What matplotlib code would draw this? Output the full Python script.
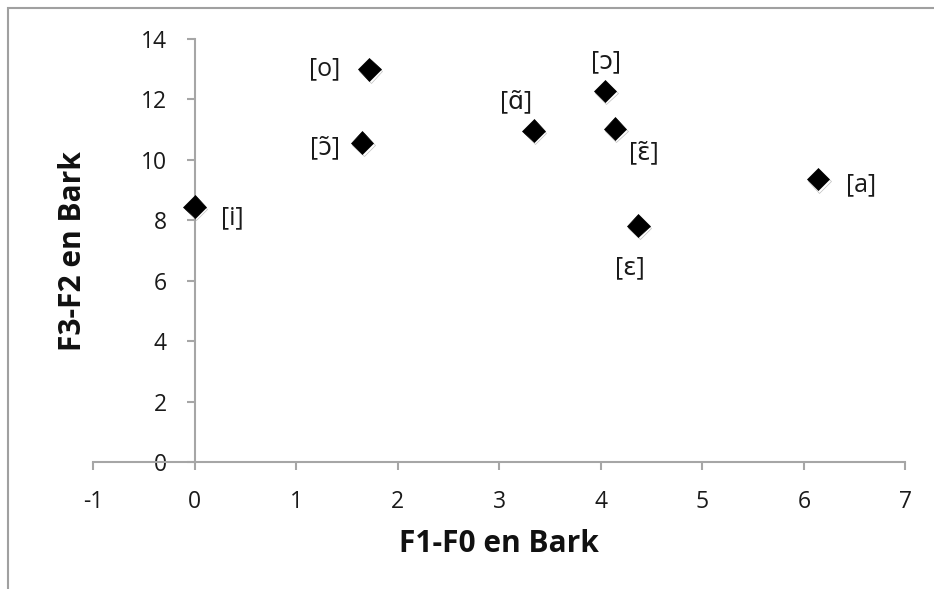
import matplotlib
matplotlib.use("Agg")
import matplotlib.pyplot as plt
import matplotlib.patheffects as pe
from matplotlib.patches import Rectangle

plt.rcParams['font.family'] = ['Open Sans', 'DejaVu Sans']
plt.rcParams['axes.unicode_minus'] = False

# vowel data (F1-F0, F3-F2 in Bark)
vowels = ["[i]", "[o]", "[\u0254\u0303]", "[\u0251\u0303]", "[\u0254]", "[\u025b\u0303]", "[\u025b]", "[a]"]
f1_f0 = [0.0, 1.72, 1.65, 3.34, 4.04, 4.14, 4.37, 6.14]
f3_f2 = [8.45, 13.0, 10.57, 10.97, 12.28, 11.03, 7.82, 9.36]
# label offsets in points
offsets = [(27, -8), (-32, 0), (-27, -4), (-13, 21), (1, 21), (21, -17), (-6, -30), (31, -4)]

xticks = list(range(-1, 8))
yticks = list(range(0, 15, 2))

fig = plt.figure(figsize=(9.34, 5.89), dpi=100)
ax = fig.add_axes([0.0996, 0.2156, 0.8698, 0.7182])

ax.plot(f1_f0, f3_f2, linestyle="none", marker="D", markersize=11.5, color="black",
        markeredgewidth=0.5, zorder=3,
        path_effects=[pe.SimpleLineShadow(offset=(1, -1.5), shadow_color="black", alpha=0.25), pe.Normal()])

for name, x, y, off in zip(vowels, f1_f0, f3_f2, offsets):
    ax.annotate(name, (x, y), xytext=off, textcoords="offset points",
                ha="center", va="center", fontsize=18, color="#1a1a1a")

ax.set_xlim(-1, 7)
ax.set_ylim(0, 14)
ax.set_xticks(xticks)
ax.set_yticks(yticks)

grey = "#a6a6a6"
for s in ["top", "right"]:
    ax.spines[s].set_visible(False)
ax.spines["left"].set_position(("data", 0))
ax.spines["bottom"].set_position(("data", 0))
ax.spines["left"].set_color(grey)
ax.spines["bottom"].set_color(grey)
ax.spines["left"].set_linewidth(1.5)
ax.spines["bottom"].set_linewidth(1.5)
ax.tick_params(axis="x", direction="out", length=6, width=1.5, color=grey, pad=14, labelsize=16.5,
               labelcolor="#1a1a1a")
ax.tick_params(axis="y", direction="out", length=6, width=1.5, color=grey, pad=14, labelsize=16.5,
               labelcolor="#1a1a1a")

fig.text(0.534, 0.076, "F1-F0 en Bark", ha="center", va="center", fontsize=21.5, fontweight="bold",
         color="#111111")
fig.text(0.078, 0.574, "F3-F2 en Bark", ha="center", va="center", fontsize=21.5, fontweight="bold",
         rotation=90, color="#111111")

# outer chart frame
fig.add_artist(Rectangle((8 / 934, -0.1), 1.2, 1 - 8 / 589 + 0.1, transform=fig.transFigure,
                         fill=False, edgecolor="#a0a0a0", linewidth=1.5))

fig.savefig("out.png", dpi=100)
